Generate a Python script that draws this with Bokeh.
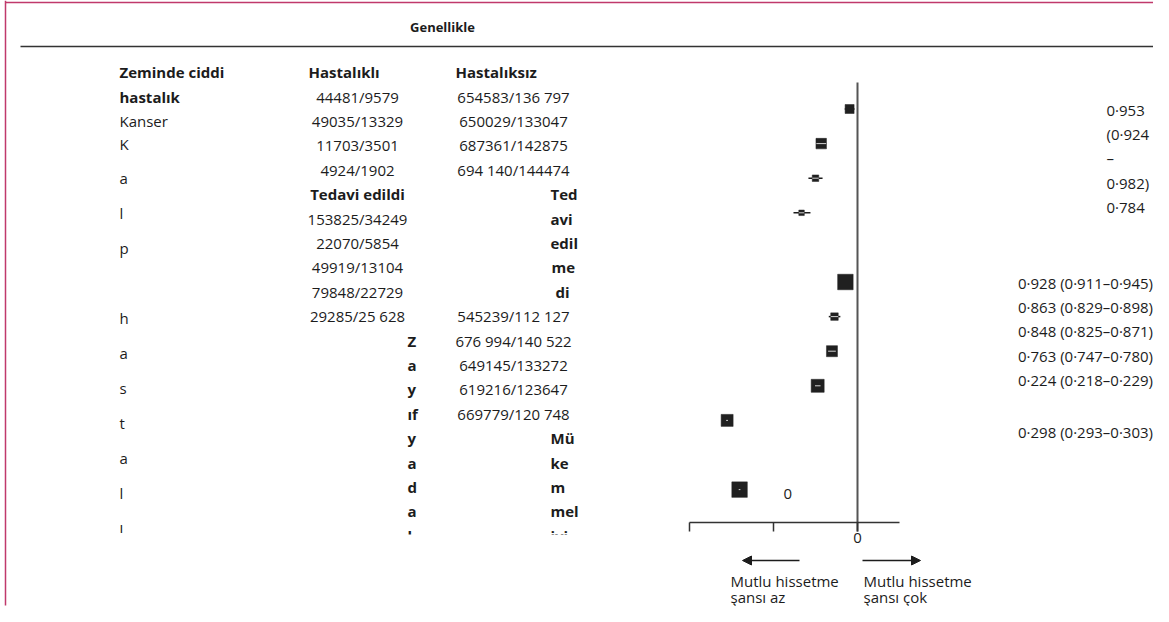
from bokeh.plotting import figure
from bokeh.models import (Range1d, LinearAxis, FixedTicker, ColumnDataSource,
                          Arrow, NormalHead)
from bokeh.core.properties import value
from bokeh.embed import file_html
from bokeh.resources import INLINE

# ---------------- data ----------------
title = "Genellikle"
headers = ["Zeminde ciddi", "Hastalıklı", "Hastalıksız"]

col1_lines = ["hastalık", "Kanser"]
col1_letters = ["K", "a", "l", "p", "", "h", "a", "s", "t", "a", "l", "ı"]

col2_numbers = ["44481/9579", "49035/13329", "11703/3501", "4924/1902",
                "Tedavi edildi", "153825/34249", "22070/5854", "49919/13104",
                "79848/22729", "29285/25 628"]
col2_letters = ["Z", "a", "y", "ıf", "y", "a", "d", "a", "l"]

col3_numbers_a = ["654583/136 797", "650029/133047", "687361/142875", "694 140/144474"]
col3_words_a = ["Ted", "avi", "edil", "me", "di"]
col3_numbers_b = ["545239/112 127", "676 994/140 522", "649145/133272",
                  "619216/123647", "669779/120 748"]
col3_words_b = ["Mü", "ke", "m", "mel", "iyi"]

or_text_a = ["0·953", "(0·924", "–", "0·982)", "0·784"]
or_text_b = ["0·928 (0·911–0·945)", "0·863 (0·829–0·898)", "0·848 (0·825–0·871)",
             "0·763 (0·747–0·780)", "0·224 (0·218–0·229)", "0·298 (0·293–0·303)"]

# forest plot rows
est = [0.953, 0.784, 0.750, 0.667, 0.928, 0.863, 0.848, 0.763, 0.224, 0.298]
lo = [0.924, 0.755, 0.708, 0.619, 0.911, 0.829, 0.825, 0.747, 0.218, 0.293]
hi = [0.982, 0.814, 0.792, 0.720, 0.945, 0.898, 0.871, 0.780, 0.229, 0.303]
weight = [9, 10.5, 6.5, 5.5, 15.5, 7.5, 11, 13, 12, 15.5]
row_slot = [0, 1, 2, 3, 5, 6, 7, 8, 9, 11]
null_value = 1.0

tick_values = [0, 0.5, 1]
tick_labels = ["", "", "0"]
stray_label = "0"
arrow_left_label = ["Mutlu hissetme", "şansı az"]
arrow_right_label = ["Mutlu hissetme", "şansı çok"]

# ---------------- layout / style ----------------
W, H = 1153, 606
X_ZERO, S = 689.0, 168.0          # canvas x of OR=0, px per OR unit
Y0, DY = 108.5, 34.6              # canvas y of forest row 0, row pitch
TROW0, TPITCH = 96.0, 24.4        # table row 0 and pitch
FONT = value("Open Sans")
INK = "#1c1c1c"
inner_alpha = [0, 0.8, 0.8, 0.8, 0, 0.8, 0.8, 0.8, 0.8, 0.8]

p = figure(width=W, height=H, x_range=Range1d(0, W), y_range=Range1d(H, 0),
           output_backend="svg", toolbar_location=None, min_border=0,
           x_axis_type=None, y_axis_type=None, outline_line_color=None,
           background_fill_color="white", border_fill_color="white")
p.extra_x_ranges = {"or": Range1d((0 - X_ZERO) / S, (W - X_ZERO) / S)}
p.extra_y_ranges = {"row": Range1d((H - Y0) / DY, (0 - Y0) / DY)}


def put(xs, ys, texts, align="left", bold=False, size="15px"):
    src = ColumnDataSource(dict(x=xs, y=ys, text=texts))
    p.text(x="x", y="y", text="text", source=src, text_font=FONT,
           text_font_size=size, text_font_style="bold" if bold else "normal",
           text_align=align, text_baseline="middle", text_color=INK)


def trow(k):
    return TROW0 + TPITCH * k


# page border lines
p.segment(x0=[5], y0=[0], x1=[5], y1=[605], line_color="#c0396b", line_width=1.5)
p.segment(x0=[5], y0=[2], x1=[W], y1=[2], line_color="#c0396b", line_width=1.5)

# title and rule
put([442], [26], [title], align="center", bold=True, size="13px")
p.segment(x0=[20], y0=[46], x1=[W], y1=[46], line_color="#333333", line_width=1.5)

# headers
put([119, 308, 455], [trow(-1)] * 3, headers, bold=True)

# column 1
put([119], [trow(0)], [col1_lines[0]], bold=True)
put([119], [trow(1)], [col1_lines[1]])
put([119] * len(col1_letters), [143 + 34.9 * j for j in range(len(col1_letters))], col1_letters)

# column 2
normal_idx = [i for i, t in enumerate(col2_numbers) if t != "Tedavi edildi"]
put([357] * len(normal_idx), [trow(i) for i in normal_idx], [col2_numbers[i] for i in normal_idx], align="center")
put([357], [trow(4)], ["Tedavi edildi"], align="center", bold=True)
put([407] * len(col2_letters), [trow(10 + i) for i in range(len(col2_letters))], col2_letters, bold=True)

# column 3
put([513] * 4, [trow(i) for i in range(4)], col3_numbers_a, align="center")
put([550, 550, 550, 551, 555], [trow(4 + i) for i in range(5)], col3_words_a, bold=True)
put([513] * 5, [trow(9 + i) for i in range(5)], col3_numbers_b, align="center")
put([550] * 5, [trow(14 + i) for i in range(5)], col3_words_b, bold=True)

# clip the table bottom
p.quad(left=[100], right=[640], bottom=[H], top=[534], fill_color="white", line_color=None)

# right-hand OR text
put([1106] * 5, [109 + 24.4 * i for i in range(5)], or_text_a)
put([1085] * 6, [282, 306, 330, 355, 379, 431], or_text_b, align="center")

# reference line
p.segment(x0=[null_value], x1=[null_value], y0=[82], y1=[531], x_range_name="or",
          line_color="#555555", line_width=2)

# forest marks
half = [w / 2.0 / S for w in weight]
src = ColumnDataSource(dict(est=est, lo=lo, hi=hi, w=weight, slot=row_slot,
                            ia=inner_alpha,
                            ilo=[max(l, e - h) for l, e, h in zip(lo, est, half)],
                            ihi=[min(u, e + h) for u, e, h in zip(hi, est, half)]))
p.segment(x0="lo", x1="hi", y0="slot", y1="slot", source=src, x_range_name="or",
          y_range_name="row", line_color=INK, line_width=1.5)
p.scatter(x="est", y="slot", size="w", marker="square", source=src, x_range_name="or",
          y_range_name="row", fill_color="#202020", line_color="#202020", line_width=0.5)
p.segment(x0="ilo", x1="ihi", y0="slot", y1="slot", source=src, x_range_name="or",
          y_range_name="row", line_color="white", line_width=1, line_alpha="ia")

# axis
ax = LinearAxis(x_range_name="or", ticker=FixedTicker(ticks=tick_values),
                major_label_overrides={t: l for t, l in zip(tick_values, tick_labels)},
                bounds=(tick_values[0], (899 - X_ZERO) / S), fixed_location=522,
                major_tick_out=9, major_tick_in=0, minor_tick_out=0, minor_tick_in=0,
                axis_line_color="#333333", axis_line_width=1.5,
                major_tick_line_color="#333333", major_tick_line_width=1.5,
                major_label_text_font="Open Sans", major_label_text_font_size="15px",
                major_label_text_color=INK, major_label_standoff=1)
p.add_layout(ax, "below")

put([783], [493], [stray_label])

# arrows
p.add_layout(Arrow(end=NormalHead(size=9, fill_color=INK, line_color=INK),
                   x_start=799, y_start=560, x_end=742, y_end=560,
                   line_color=INK, line_width=1.5))
p.add_layout(Arrow(end=NormalHead(size=9, fill_color=INK, line_color=INK),
                   x_start=862, y_start=560, x_end=920, y_end=560,
                   line_color=INK, line_width=1.5))
put([730, 730], [580, 596], arrow_left_label)
put([863, 863], [580, 596], arrow_right_label)

open("out.html", "w").write(file_html(p, INLINE))
